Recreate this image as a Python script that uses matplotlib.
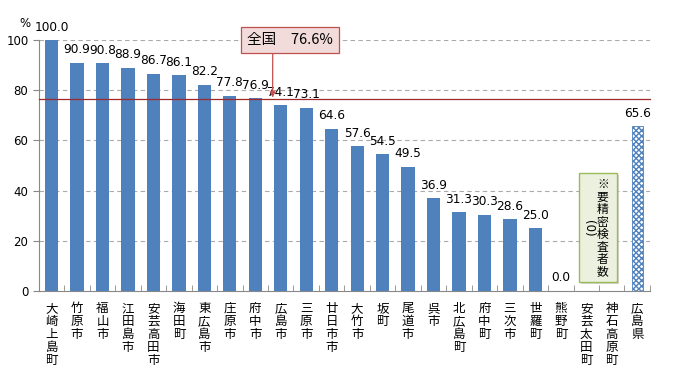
import matplotlib
matplotlib.use("Agg")
import matplotlib.pyplot as plt
import numpy as np
from matplotlib.patches import Rectangle

plt.rcParams['font.family'] = ['Noto Sans CJK JP', 'DejaVu Sans']

# municipalities, left to right
names = ["大崎上島町", "竹原市", "福山市", "江田島市", "安芸高田市", "海田町", "東広島市",
         "庄原市", "府中市", "広島市", "三原市", "廿日市市", "大竹市", "坂町", "尾道市",
         "呉市", "北広島町", "府中町", "三次市", "世羅町", "熊野町", "安芸太田町",
         "神石高原町", "広島県"]
values = [100.0, 90.9, 90.8, 88.9, 86.7, 86.1, 82.2, 77.8, 76.9, 74.1, 73.1, 64.6,
          57.6, 54.5, 49.5, 36.9, 31.3, 30.3, 28.6, 25.0, 0.0, None, None, 65.6]
national = 76.6
national_label = "全国　76.6%"
note_text = "※要精密検査者数"
note_zero = "(0)"

blue = "#4f81bd"

fig = plt.figure(figsize=(6.82, 3.72), dpi=100)
ax = fig.add_axes([0.057, 0.218, 0.896, 0.674])

x = np.arange(len(names))
for i, v in enumerate(values):
    if v is None:
        continue
    if names[i] == "広島県":
        ax.bar(i, v, width=0.43, facecolor="white", edgecolor=blue,
               hatch="xxxxxx", linewidth=0.6, zorder=3)
    else:
        ax.bar(i, v, width=0.52, color=blue, zorder=3)
    ax.text(i, v + 2.6, f"{v:.1f}", ha="center", va="bottom", fontsize=8.7,
            family=['DejaVu Sans'], zorder=5)

ax.set_xlim(-0.5, len(names) - 0.5)
ax.set_ylim(0, 100)
ax.set_yticks([0, 20, 40, 60, 80, 100])
ax.tick_params(axis='y', labelsize=8.5, length=4, color="#888888", direction="out")
for t in ax.get_yticklabels():
    t.set_family('DejaVu Sans')

ax.set_xticks(x)
ax.set_xticklabels(["\n".join(n) for n in names], fontsize=9, linespacing=1.0,
                   va="top")
ax.tick_params(axis='x', length=0, pad=8)
ax.set_xticks(np.arange(-0.5, len(names)), minor=True)
ax.tick_params(axis='x', which='minor', length=4, direction="in", color="#888888")

for y in [20, 40, 60, 80, 100]:
    ax.axhline(y, color="#aaaaaa", linestyle=(0, (4, 3)), linewidth=0.8, zorder=1)

for s in ["top", "right"]:
    ax.spines[s].set_visible(False)
for s in ["left", "bottom"]:
    ax.spines[s].set_color("#888888")

ax.axhline(national, color="#a0292b", linewidth=0.9, zorder=4, clip_on=False)

ax.text(-0.023, 1.04, "%", transform=ax.transAxes, fontsize=8.5,
        ha="center", va="bottom", family=['DejaVu Sans'])

# national average callout
ax.annotate(national_label, xy=(8.68, national + 0.5), xytext=(9.36, 100.2),
            fontsize=10.5, ha="center", va="center",
            bbox=dict(boxstyle="square,pad=0.4", fc="#f2dcdb", ec="#c0504d", lw=0.9),
            arrowprops=dict(arrowstyle="-|>", color="#c0504d", lw=0.9,
                            mutation_scale=8, shrinkA=0, shrinkB=0,
                            relpos=(0.3, 0.0)),
            annotation_clip=False, zorder=6)

# note box for municipalities with no subjects
shadow = Rectangle((20.78, 2.6), 1.5, 43.5, facecolor="#bbbbbb", edgecolor="none",
                   zorder=5, alpha=0.6)
ax.add_patch(shadow)
box = Rectangle((20.71, 3.5), 1.5, 43.5, facecolor="#ebf1de", edgecolor="#9bbb59",
                linewidth=1.0, zorder=6)
ax.add_patch(box)
ax.text(21.65, 45, "\n".join(note_text), fontsize=8.5, ha="center", va="top",
        linespacing=0.95, zorder=7)
ax.text(21.08, 25, note_zero, fontsize=8.5, ha="center", va="center",
        rotation=270, family=['DejaVu Sans'], zorder=7)

fig.savefig("out.png", dpi=100)
